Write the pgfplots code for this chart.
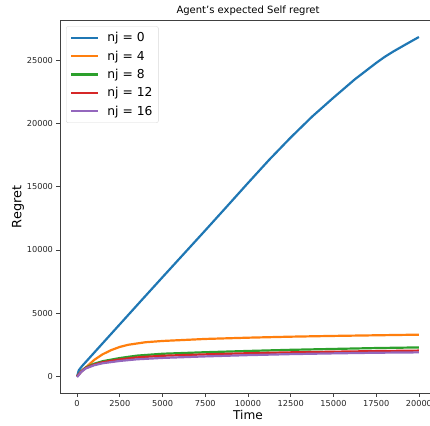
\documentclass[border=0pt]{standalone}
\usepackage{pgfplots}
\pgfplotsset{compat=1.18}
\usepackage{fontspec}
\setmainfont{DejaVu Sans}
\definecolor{c0}{HTML}{1F77B4}
\definecolor{c1}{HTML}{FF7F0E}
\definecolor{c2}{HTML}{2CA02C}
\definecolor{c3}{HTML}{D62728}
\definecolor{c4}{HTML}{9467BD}
\begin{document}
\begin{tikzpicture}[x=1pt,y=1pt]
\begin{axis}[
    at={(60pt,31.7pt)}, anchor=south west,
    scale only axis, width=376pt, height=372.6pt,
    xmin=-1000, xmax=21000, ymin=-1340, ymax=28140,
    xtick={0,2500,...,20000}, ytick={0,5000,...,25000},
    scaled ticks=false,
    /pgf/number format/.cd, 1000 sep={}, assume math mode=true, /pgfplots/.cd,
    tick label style={font=\fontsize{8.2}{9}\selectfont, text=black!85},
    tick align=outside, tick pos=left, major tick length=3.5pt,
    every tick/.style={black!75, line width=0.8pt},
    axis line style={black!75, line width=0.8pt},
    title={Agent's expected Self regret},
    title style={font=\fontsize{10}{12}\selectfont, yshift=-4pt},
    xlabel={Time}, ylabel={Regret},
    xlabel style={font=\fontsize{12.1}{14}\selectfont, yshift=3pt},
    ylabel style={font=\fontsize{12.8}{14}\selectfont, yshift=-4pt},
    legend cell align=left,
    legend style={at={(0.016,0.985)}, anchor=north west, draw=black!15,
        rounded corners=2pt, font=\fontsize{12.3}{14}\selectfont,
        row sep=3.5pt, inner xsep=4pt, inner ysep=4pt},
    legend image code/.code={\draw[#1, line width=2.2pt] (0pt,0pt) -- (27pt,0pt); \path (33pt,0pt);},
    every axis plot/.append style={line width=2.2pt, line join=round},
]
\addplot[c0] coordinates {(0,0) (100,480) (275,790) (1250,2250) (2500,4120) (3750,5990) (5000,7850) (6250,9700) (7500,11550) (8750,13420) (10000,15300) (11250,17150) (12500,18900) (13750,20550) (15000,22050) (16250,23500) (17500,24800) (18000,25280) (18500,25700) (19250,26280) (20000,26850)};
\addlegendentry{nj = 0}
\addplot[c1] coordinates {(0,0) (250,380) (500,700) (1000,1300) (1500,1750) (2000,2080) (2500,2330) (3000,2500) (4000,2700) (5000,2800) (7500,2960) (10000,3060) (12500,3140) (15000,3200) (17500,3250) (20000,3300)};
\addlegendentry{nj = 4}
\addplot[c2] coordinates {(0,0) (250,420) (500,700) (1000,1000) (1500,1200) (2500,1450) (3500,1640) (5000,1790) (7500,1910) (10000,2010) (12500,2100) (15000,2170) (17500,2240) (20000,2290)};
\addlegendentry{nj = 8}
\addplot[c3] coordinates {(0,0) (250,400) (500,660) (1000,930) (1500,1120) (2500,1340) (3500,1500) (5000,1630) (7500,1740) (10000,1830) (12500,1900) (15000,1950) (17500,2000) (20000,2040)};
\addlegendentry{nj = 12}
\addplot[c4] coordinates {(0,-60) (250,360) (500,620) (1000,880) (1500,1040) (2500,1220) (3500,1350) (5000,1460) (7500,1580) (10000,1680) (12500,1760) (15000,1820) (17500,1870) (20000,1900)};
\addlegendentry{nj = 16}
\end{axis}
\pgfresetboundingbox
\useasboundingbox (0,0) rectangle (430,425);
\end{tikzpicture}
\end{document}
